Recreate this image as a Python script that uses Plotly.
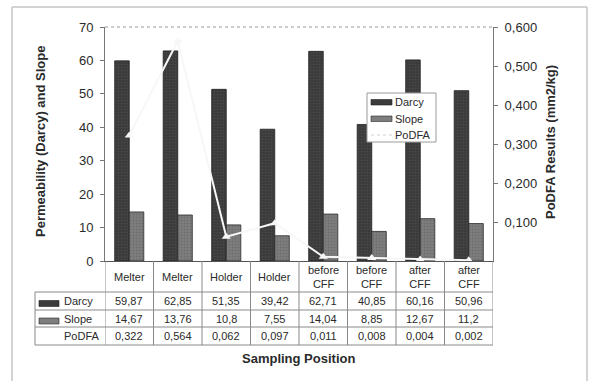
import plotly.graph_objects as go

# Sampling positions and measured values
categories = ["Melter", "Melter", "Holder", "Holder", "before<br>CFF", "before<br>CFF", "after<br>CFF", "after<br>CFF"]
darcy = [59.87, 62.85, 51.35, 39.42, 62.71, 40.85, 60.16, 50.96]
slope = [14.67, 13.76, 10.8, 7.55, 14.04, 8.85, 12.67, 11.2]
podfa = [0.322, 0.564, 0.062, 0.097, 0.011, 0.008, 0.004, 0.002]

left_ticks = [0, 10, 20, 30, 40, 50, 60, 70]
right_ticks = [0.1, 0.2, 0.3, 0.4, 0.5, 0.6]

W, H = 590, 381
L, R, T, B = 105, 97, 27, 120
PW, PH = W - L - R, H - T - B
FONT = "Arial, Liberation Sans, sans-serif"
TXT = "#2a2a2a"
GRID = "#8a8a8a"
DARK = "#3b3b3b"
MID = "#7e7e7e"


def xp(px):
    return (px - L) / PW


def yp(py):
    return (H - B - py) / PH


def fmt(v, nd):
    return f"{v:.{nd}f}".replace(".", ",")


def fmt_val(v):
    return f"{v}".replace(".", ",")


def label(xref, xv, py, text, xanchor="center", size=11, **kw):
    return dict(xref=xref, yref="paper", x=xv, y=yp(py), text=text, showarrow=False,
                xanchor=xanchor, yanchor="middle",
                font=dict(size=size, color=TXT, family=FONT), **kw)


x = list(range(len(categories)))

fig = go.Figure()
fig.add_trace(go.Bar(
    x=x, y=darcy, name="Darcy",
    marker=dict(color=DARK, line=dict(color="#1e1e1e", width=0.8),
                pattern=dict(shape=".", fgcolor="#595959", bgcolor=DARK, size=3, solidity=0.25)),
))
fig.add_trace(go.Bar(
    x=x, y=slope, name="Slope",
    marker=dict(color=MID, line=dict(color="#2a2a2a", width=0.8),
                pattern=dict(shape=".", fgcolor="#5c5c5c", bgcolor=MID, size=3, solidity=0.3)),
))
fig.add_trace(go.Scatter(
    x=x, y=podfa, name="PoDFA", yaxis="y2", mode="lines+markers",
    line=dict(color="#f7f7f7", width=2),
    marker=dict(symbol="triangle-up", size=8, color="#f7f7f7"),
))

shapes = []
annotations = []

# outer chart frame (left, top, right edges)
frame = dict(xref="paper", yref="paper", line=dict(color="#c4c4c4", width=1.5), layer="below")
shapes.append(dict(type="line", x0=xp(12), x1=xp(12), y0=yp(381), y1=yp(7), **frame))
shapes.append(dict(type="line", x0=xp(12), x1=xp(587), y0=yp(7), y1=yp(7), **frame))
shapes.append(dict(type="line", x0=xp(587), x1=xp(587), y0=yp(381), y1=yp(7), **frame))

# dotted top border of plot area
shapes.append(dict(type="line", xref="paper", yref="paper", x0=0, x1=1, y0=1, y1=1,
                   line=dict(color="#9a9a9a", width=1, dash="dot")))

# data table grid
for py in [292, 310, 327, 345]:
    shapes.append(dict(type="line", xref="paper", yref="paper", x0=xp(35), x1=1, y0=yp(py), y1=yp(py),
                       line=dict(color=GRID, width=1)))
shapes.append(dict(type="line", xref="paper", yref="paper", x0=xp(35), x1=xp(35), y0=yp(292), y1=yp(345),
                   line=dict(color=GRID, width=1)))
for i in range(len(categories) + 1):
    shapes.append(dict(type="line", xref="x", yref="paper", x0=i - 0.5, x1=i - 0.5, y0=yp(261), y1=yp(345),
                       line=dict(color=GRID, width=1)))

# table contents
for i, c in enumerate(categories):
    annotations.append(label("x", i, 277, c, align="center"))
    annotations.append(label("x", i, 301, fmt_val(darcy[i])))
    annotations.append(label("x", i, 318.5, fmt_val(slope[i])))
    annotations.append(label("x", i, 336, fmt(podfa[i], 3)))

# row keys in table
shapes.append(dict(type="rect", xref="paper", yref="paper", x0=xp(39), x1=xp(59), y0=yp(306.5), y1=yp(300.5),
                   fillcolor=DARK, line=dict(color="#1e1e1e", width=0.6)))
shapes.append(dict(type="rect", xref="paper", yref="paper", x0=xp(39), x1=xp(59), y0=yp(324), y1=yp(318),
                   fillcolor=MID, line=dict(color="#2a2a2a", width=0.6)))
for lbl, py in [("Darcy", 301), ("Slope", 318.5), ("PoDFA", 336)]:
    annotations.append(label("paper", xp(62), py, lbl, xanchor="left"))

# legend box
shapes.append(dict(type="rect", xref="paper", yref="paper", x0=xp(367), x1=xp(436), y0=yp(142), y1=yp(93),
                   fillcolor="white", line=dict(color="#9a9a9a", width=1)))
shapes.append(dict(type="rect", xref="paper", yref="paper", x0=xp(371), x1=xp(392), y0=yp(105), y1=yp(99.5),
                   fillcolor=DARK, line=dict(color="#1e1e1e", width=0.6)))
shapes.append(dict(type="rect", xref="paper", yref="paper", x0=xp(371), x1=xp(392), y0=yp(121.5), y1=yp(116),
                   fillcolor=MID, line=dict(color="#2a2a2a", width=0.6)))
shapes.append(dict(type="line", xref="paper", yref="paper", x0=xp(371), x1=xp(392), y0=yp(135), y1=yp(135),
                   line=dict(color="#d0d0d0", width=1, dash="dot")))
for lbl, py in [("Darcy", 102), ("Slope", 119), ("PoDFA", 135)]:
    annotations.append(label("paper", xp(393), py, lbl, xanchor="left"))

# axis titles
annotations.append(label("paper", xp(298), 358, "<b>Sampling Position</b>", size=13))
annotations.append(label("paper", xp(40), 142, "<b>Permeability (Darcy) and Slope</b>", size=13, textangle=-90))
annotations.append(label("paper", xp(550), 142, "<b>PoDFA Results (mm2/kg)</b>", size=13, textangle=-90))

fig.update_layout(
    width=W, height=H,
    margin=dict(l=L, r=R, t=T, b=B, pad=0),
    paper_bgcolor="white", plot_bgcolor="white",
    barmode="group", bargap=0.4, bargroupgap=0,
    showlegend=False,
    font=dict(family=FONT, color=TXT),
    xaxis=dict(range=[-0.5, len(categories) - 0.5], showticklabels=False, ticks="", showgrid=False,
               zeroline=False, showline=True, linecolor="#555555", linewidth=1.2, fixedrange=True),
    yaxis=dict(range=[0, 70], tickvals=left_ticks, ticks="outside", ticklen=4, tickcolor="#777777",
               showline=True, linecolor="#777777", linewidth=1, showgrid=False, zeroline=False,
               tickfont=dict(size=13, color=TXT, family=FONT), ticklabelstandoff=4),
    yaxis2=dict(range=[0, 0.6], overlaying="y", side="right", tickvals=right_ticks,
                ticktext=[fmt(v, 3) for v in right_ticks], ticks="outside", ticklen=4, tickcolor="#777777",
                showline=True, linecolor="#777777", linewidth=1, showgrid=False, zeroline=False,
                tickfont=dict(size=13, color=TXT, family=FONT), ticklabelstandoff=4),
    shapes=shapes,
    annotations=annotations,
)

fig.write_html("out.html")
